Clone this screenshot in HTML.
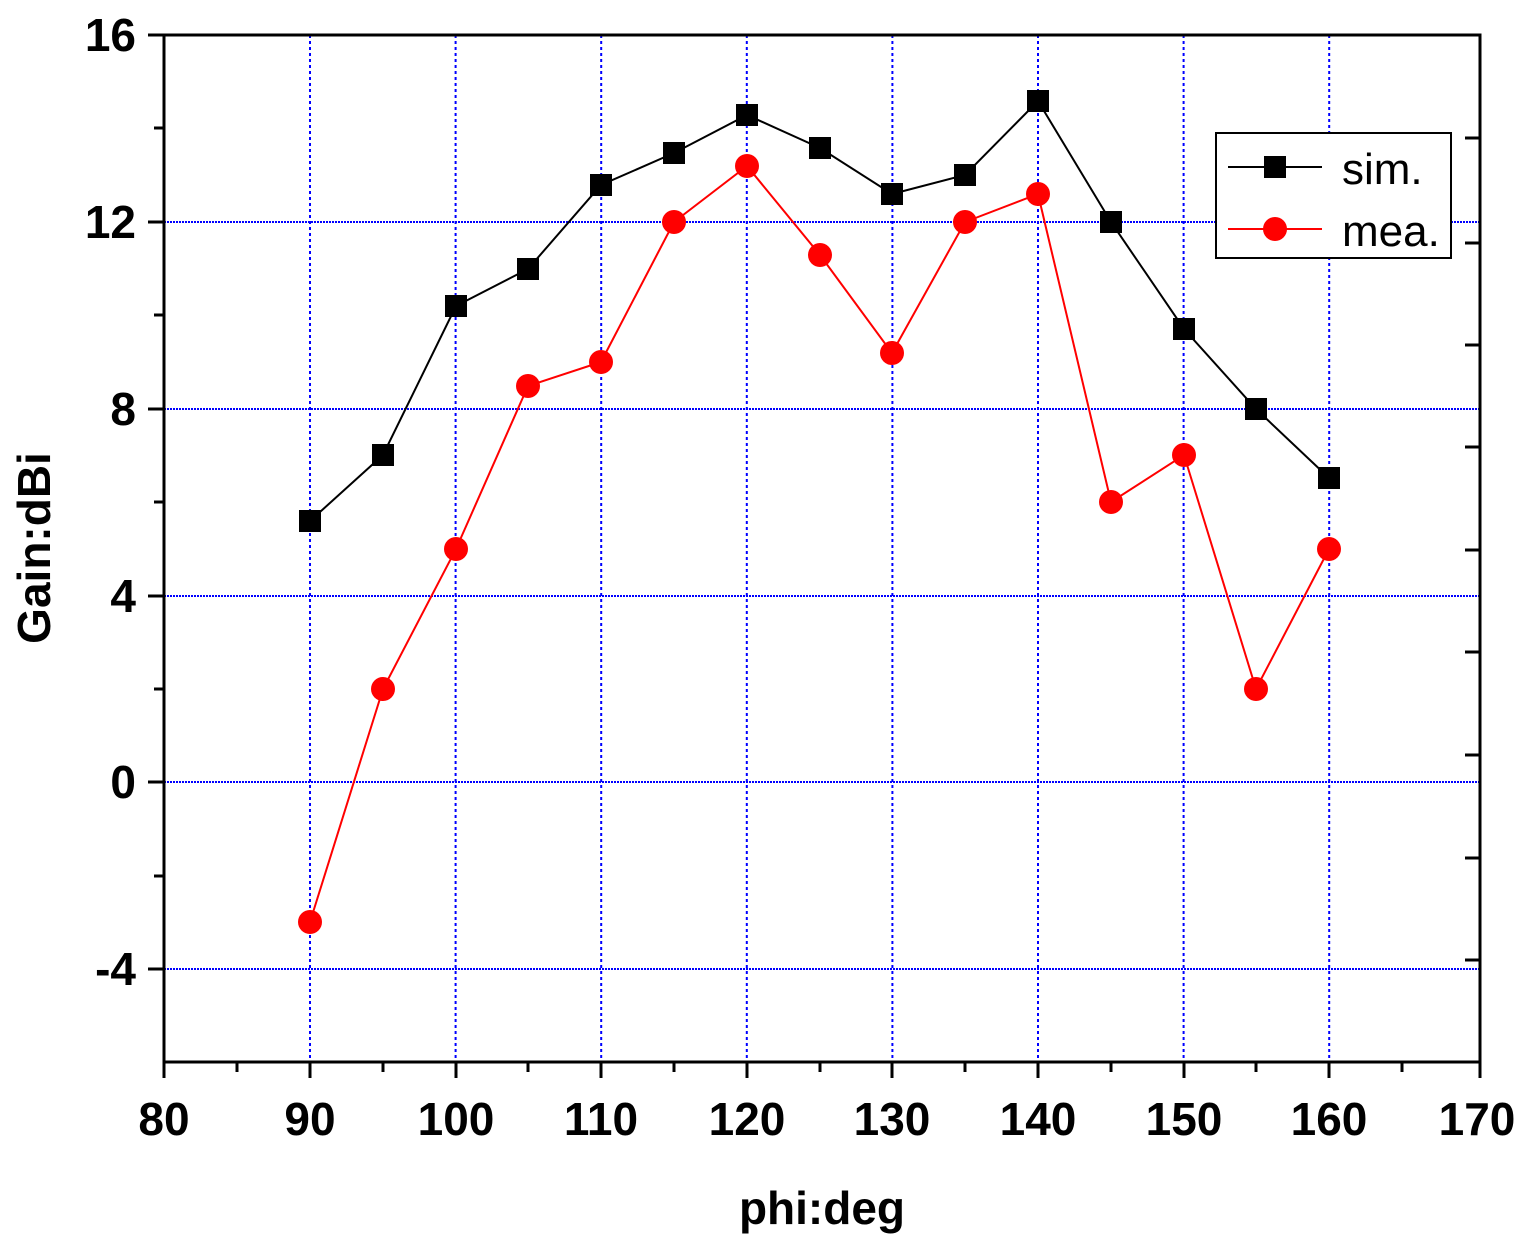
<!DOCTYPE html>
<html><head><style>body{margin:0;background:#fff}</style></head><body>
<svg width="1533" height="1242" xmlns="http://www.w3.org/2000/svg" font-family="Liberation Sans, Arial, sans-serif">
<rect width="1533" height="1242" fill="#fff"/>
<g stroke="#0000ff" stroke-width="2" stroke-dasharray="3,3">
<line x1="310" y1="35" x2="310" y2="1062"/><line x1="455.6" y1="35" x2="455.6" y2="1062"/><line x1="601.2" y1="35" x2="601.2" y2="1062"/><line x1="746.8" y1="35" x2="746.8" y2="1062"/><line x1="892.4" y1="35" x2="892.4" y2="1062"/><line x1="1038" y1="35" x2="1038" y2="1062"/><line x1="1183.6" y1="35" x2="1183.6" y2="1062"/><line x1="1329.2" y1="35" x2="1329.2" y2="1062"/>
</g>
<g stroke="#0000ff" stroke-width="2" stroke-dasharray="2,1">
<line x1="164" y1="222" x2="1480" y2="222"/><line x1="164" y1="409" x2="1480" y2="409"/><line x1="164" y1="596" x2="1480" y2="596"/><line x1="164" y1="782" x2="1480" y2="782"/><line x1="164" y1="969" x2="1480" y2="969"/>
</g>
<rect x="164" y="35" width="1316" height="1027" fill="none" stroke="#000" stroke-width="3"/>
<g stroke="#000" stroke-width="3">
<line x1="164" y1="1062" x2="164" y2="1078"/><line x1="237" y1="1062" x2="237" y2="1072"/><line x1="310" y1="1062" x2="310" y2="1078"/><line x1="383" y1="1062" x2="383" y2="1072"/><line x1="456" y1="1062" x2="456" y2="1078"/><line x1="528" y1="1062" x2="528" y2="1072"/><line x1="601" y1="1062" x2="601" y2="1078"/><line x1="674" y1="1062" x2="674" y2="1072"/><line x1="747" y1="1062" x2="747" y2="1078"/><line x1="820" y1="1062" x2="820" y2="1072"/><line x1="892" y1="1062" x2="892" y2="1078"/><line x1="965" y1="1062" x2="965" y2="1072"/><line x1="1038" y1="1062" x2="1038" y2="1078"/><line x1="1111" y1="1062" x2="1111" y2="1072"/><line x1="1184" y1="1062" x2="1184" y2="1078"/><line x1="1256" y1="1062" x2="1256" y2="1072"/><line x1="1329" y1="1062" x2="1329" y2="1078"/><line x1="1402" y1="1062" x2="1402" y2="1072"/><line x1="1480" y1="1062" x2="1480" y2="1078"/>
<line x1="148" y1="35" x2="164" y2="35"/><line x1="148" y1="222" x2="164" y2="222"/><line x1="148" y1="409" x2="164" y2="409"/><line x1="148" y1="596" x2="164" y2="596"/><line x1="148" y1="782" x2="164" y2="782"/><line x1="148" y1="969" x2="164" y2="969"/>
<line x1="154" y1="128" x2="164" y2="128"/><line x1="154" y1="315" x2="164" y2="315"/><line x1="154" y1="502" x2="164" y2="502"/><line x1="154" y1="689" x2="164" y2="689"/><line x1="154" y1="876" x2="164" y2="876"/>
<line x1="1465" y1="138" x2="1480" y2="138"/><line x1="1465" y1="243" x2="1480" y2="243"/><line x1="1465" y1="345" x2="1480" y2="345"/><line x1="1465" y1="447" x2="1480" y2="447"/><line x1="1465" y1="550" x2="1480" y2="550"/><line x1="1465" y1="652" x2="1480" y2="652"/><line x1="1465" y1="755" x2="1480" y2="755"/><line x1="1465" y1="858" x2="1480" y2="858"/><line x1="1465" y1="960" x2="1480" y2="960"/>
</g>
<g font-size="46" font-weight="bold" text-anchor="middle">
<text x="164" y="1135">80</text><text x="310" y="1135">90</text><text x="456" y="1135">100</text><text x="601" y="1135">110</text><text x="747" y="1135">120</text><text x="892" y="1135">130</text><text x="1038" y="1135">140</text><text x="1184" y="1135">150</text><text x="1329" y="1135">160</text><text x="1477" y="1135">170</text>
</g>
<g font-size="46" font-weight="bold" text-anchor="end">
<text x="136" y="51">16</text><text x="136" y="238">12</text><text x="136" y="425">8</text><text x="136" y="612">4</text><text x="136" y="798">0</text><text x="136" y="985">-4</text>
</g>
<text x="822" y="1224" font-size="46" font-weight="bold" text-anchor="middle">phi:deg</text>
<text transform="translate(50,548) rotate(-90)" font-size="46" font-weight="bold" text-anchor="middle">Gain:dBi</text>
<polyline fill="none" stroke="#000" stroke-width="2" points="310,521 383,455 456,306 528,269 601,185 674,153 747,115 820,148 892,194 965,175 1038,101 1111,222 1184,329 1256,409 1329,478"/>
<g fill="#000">
<rect x="299" y="510" width="22" height="22"/><rect x="372" y="444" width="22" height="22"/><rect x="445" y="295" width="22" height="22"/><rect x="517" y="258" width="22" height="22"/><rect x="590" y="174" width="22" height="22"/><rect x="663" y="142" width="22" height="22"/><rect x="736" y="104" width="22" height="22"/><rect x="809" y="137" width="22" height="22"/><rect x="881" y="183" width="22" height="22"/><rect x="954" y="164" width="22" height="22"/><rect x="1027" y="90" width="22" height="22"/><rect x="1100" y="211" width="22" height="22"/><rect x="1173" y="318" width="22" height="22"/><rect x="1245" y="398" width="22" height="22"/><rect x="1318" y="467" width="22" height="22"/>
</g>
<polyline fill="none" stroke="#ff0000" stroke-width="2" points="310,922 383,689 456,549 528,386 601,362 674,222 747,166 820,255 892,353 965,222 1038,194 1111,502 1184,455 1256,689 1329,549"/>
<g fill="#ff0000">
<circle cx="310" cy="922" r="12"/><circle cx="383" cy="689" r="12"/><circle cx="456" cy="549" r="12"/><circle cx="528" cy="386" r="12"/><circle cx="601" cy="362" r="12"/><circle cx="674" cy="222" r="12"/><circle cx="747" cy="166" r="12"/><circle cx="820" cy="255" r="12"/><circle cx="892" cy="353" r="12"/><circle cx="965" cy="222" r="12"/><circle cx="1038" cy="194" r="12"/><circle cx="1111" cy="502" r="12"/><circle cx="1184" cy="455" r="12"/><circle cx="1256" cy="689" r="12"/><circle cx="1329" cy="549" r="12"/>
</g>
<rect x="1216" y="133" width="235" height="125" fill="#fff" stroke="#000" stroke-width="2"/>
<line x1="1228" y1="167" x2="1322" y2="167" stroke="#000" stroke-width="2"/>
<rect x="1264" y="156" width="22" height="22" fill="#000"/>
<line x1="1228" y1="229" x2="1322" y2="229" stroke="#ff0000" stroke-width="2"/>
<circle cx="1275" cy="229" r="12" fill="#ff0000"/>
<text x="1342" y="184" font-size="44">sim.</text>
<text x="1342" y="246" font-size="44">mea.</text>
</svg>
</body></html>
